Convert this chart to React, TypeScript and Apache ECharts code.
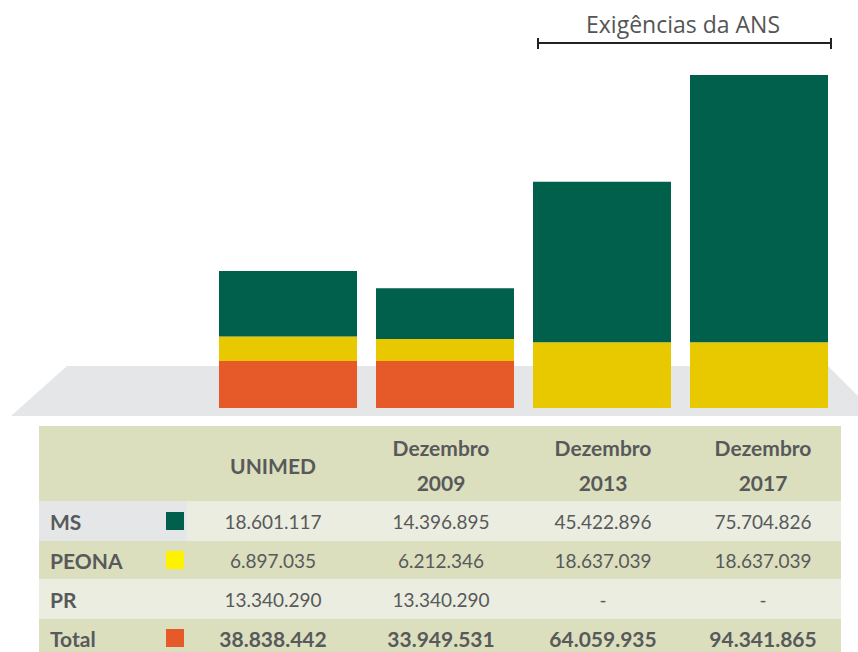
import React, { useEffect, useRef } from "react";
import * as echarts from "echarts";

const categories = ["UNIMED", "Dezembro 2009", "Dezembro 2013", "Dezembro 2017"];
const msValues = [18601117, 14396895, 45422896, 75704826];
const peonaValues = [6897035, 6212346, 18637039, 18637039];
const prValues: (number | null)[] = [13340290, 13340290, null, null];
const rowLabels = ["MS", "PEONA", "PR", "Total"];
const bracketTitle = "Exigências da ANS";

const C_MS = "#00604c";
const C_PEONA = "#e8c900";
const C_PEONA_KEY = "#fff200";
const C_PR = "#e55a28";
const TXT = "#58595b";
const FONT = "Lato";

function fmt(v: number | null): string {
  if (v === null || v === undefined) return "-";
  return String(Math.round(v)).replace(/\B(?=(\d{3})+(?!\d))/g, ".");
}

export default function App() {
  const ref = useRef<HTMLDivElement>(null);
  useEffect(() => {
    document.body.style.margin = "0";
    const chart = echarts.init(ref.current!, null, { renderer: "svg" });
    const totals = categories.map((_, i) => msValues[i] + peonaValues[i] + (prValues[i] || 0));
    const tableRows: (number | null)[][] = [msValues, peonaValues, prValues, totals];

    const colX = [273, 441, 603, 763];
    const tableLeft = 39;
    const tableRight = 841;
    const headerTop = 426;
    const headerBottom = 501;
    const rowEdges = [501, 541, 579, 619, 660];
    const rowBg = ["#ebede0", "#dbdfbe", "#ebede0", "#dbdfbe"];
    const keyColors = [C_MS, C_PEONA_KEY, null, C_PR];

    const g: any[] = [];
    g.push({
      type: "polygon",
      silent: true,
      z: -1,
      shape: { points: [[67, 366], [828, 366], [870, 408], [870, 416], [11, 416]] },
      style: { fill: "#e5e6e8" },
    });
    g.push({ type: "line", shape: { x1: 537, y1: 43, x2: 832, y2: 43 }, style: { stroke: "#222", lineWidth: 2 } });
    g.push({ type: "line", shape: { x1: 538, y1: 38, x2: 538, y2: 49 }, style: { stroke: "#222", lineWidth: 2 } });
    g.push({ type: "line", shape: { x1: 831, y1: 38, x2: 831, y2: 49 }, style: { stroke: "#222", lineWidth: 2 } });
    g.push({
      type: "text",
      x: 683,
      y: 24,
      style: { text: bracketTitle, fill: "#555", font: `23px "Open Sans"`, textAlign: "center", textVerticalAlign: "middle" },
    });
    g.push({ type: "rect", shape: { x: tableLeft, y: headerTop, width: tableRight - tableLeft, height: headerBottom - headerTop }, style: { fill: "#dbdfbe" } });
    categories.forEach((c, i) => {
      const parts = c.split(" ");
      if (parts.length === 1) {
        g.push({ type: "text", x: colX[i], y: 465, style: { text: c, fill: TXT, font: `bold 21px ${FONT}`, textAlign: "center", textVerticalAlign: "middle" } });
      } else {
        parts.forEach((p, k) => {
          g.push({ type: "text", x: colX[i], y: 447 + k * 35, style: { text: p, fill: TXT, font: `bold 21px ${FONT}`, textAlign: "center", textVerticalAlign: "middle" } });
        });
      }
    });
    rowLabels.forEach((lab, r) => {
      const y0 = rowEdges[r];
      const y1 = rowEdges[r + 1];
      g.push({ type: "rect", shape: { x: tableLeft, y: y0, width: tableRight - tableLeft, height: y1 - y0 }, style: { fill: rowBg[r] } });
      if (r === 0) {
        g.push({ type: "rect", shape: { x: tableLeft, y: y0, width: 187 - tableLeft, height: y1 - y0 }, style: { fill: "#e5e6e8" } });
      }
      const cy = r === 3 ? 638 : (y0 + y1) / 2;
      g.push({ type: "text", x: 50, y: cy, style: { text: lab, fill: TXT, font: `bold 21px ${FONT}`, textAlign: "left", textVerticalAlign: "middle" } });
      const kc = keyColors[r];
      if (kc) {
        g.push({ type: "rect", shape: { x: 166, y: cy - 9, width: 18, height: 18 }, style: { fill: kc } });
      }
      tableRows[r].forEach((v, i) => {
        g.push({
          type: "text",
          x: colX[i],
          y: cy,
          style: { text: fmt(v), fill: TXT, font: `${r === 3 ? "bold 21px" : "19px"} ${FONT}`, textAlign: "center", textVerticalAlign: "middle" },
        });
      });
    });

    chart.setOption({
      animation: false,
      grid: { left: 209.5, top: 55, width: 628, height: 353 },
      xAxis: { type: "category", data: categories, show: false },
      yAxis: { type: "value", min: 0, max: 100000000, show: false },
      graphic: g,
      series: [
        { name: "PR", type: "bar", stack: "t", data: prValues, barWidth: 138, itemStyle: { color: C_PR }, z: 2 },
        { name: "PEONA", type: "bar", stack: "t", data: peonaValues, barWidth: 138, itemStyle: { color: C_PEONA }, z: 2 },
        { name: "MS", type: "bar", stack: "t", data: msValues, barWidth: 138, itemStyle: { color: C_MS }, z: 2 },
      ],
    });
    return () => chart.dispose();
  }, []);
  return <div ref={ref} style={{ width: 858, height: 652 }} />;
}
